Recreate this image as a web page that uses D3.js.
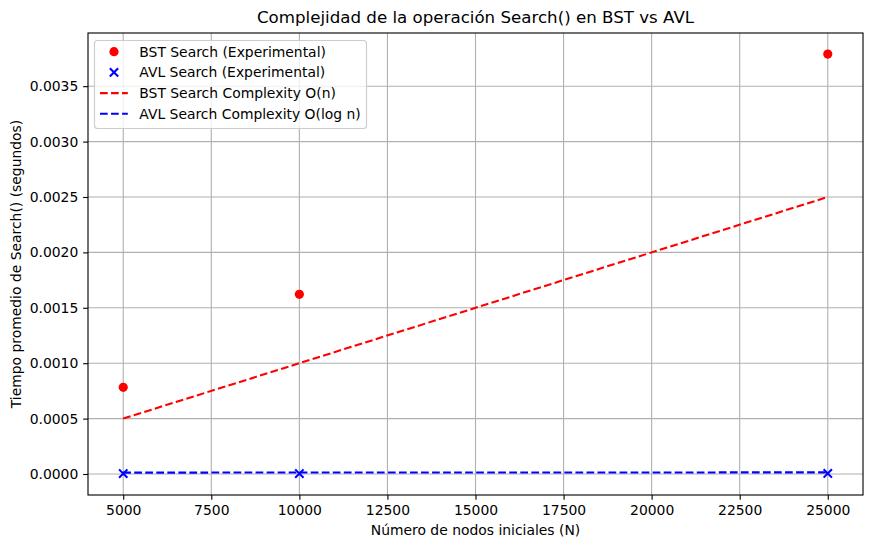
<!DOCTYPE html>
<html>
<head>
<meta charset="utf-8">
<script src="https://cdn.jsdelivr.net/npm/d3@7"></script>
<style>
body{margin:0;background:#fff;}
svg{display:block;font-family:"DejaVu Sans",sans-serif;}
</style>
</head>
<body>
<svg id="chart" width="872" height="548"></svg>
<script>
const nodes = [5000, 10000, 25000];
const bstExperimental = [0.000782, 0.001622, 0.00379];
const avlExperimental = [0.000004, 0.000004, 0.000005];
const bstComplexity = [0.0005, 0.001, 0.0025];
const avlComplexity = [0.0000123, 0.0000133, 0.0000146];
const xTicks = [5000, 7500, 10000, 12500, 15000, 17500, 20000, 22500, 25000];
const yTicks = [0, 0.0005, 0.001, 0.0015, 0.002, 0.0025, 0.003, 0.0035];
const legendLabels = ["BST Search (Experimental)", "AVL Search (Experimental)", "BST Search Complexity O(n)", "AVL Search Complexity O(log n)"];

const svg = d3.select("#chart");
const L = 88, R = 863, T = 33, B = 495;
const x = d3.scaleLinear().domain([4000, 26000]).range([L, R]);
const y = d3.scaleLinear().domain([-0.0001895, 0.00398]).range([B, T]);

// grid
const g = svg.append("g");
g.selectAll(".gx").data(xTicks).enter().append("line")
  .attr("x1", d => x(d)).attr("x2", d => x(d)).attr("y1", T).attr("y2", B)
  .attr("stroke", "#b0b0b0").attr("stroke-width", 1.11);
g.selectAll(".gy").data(yTicks).enter().append("line")
  .attr("y1", d => y(d)).attr("y2", d => y(d)).attr("x1", L).attr("x2", R)
  .attr("stroke", "#b0b0b0").attr("stroke-width", 1.11);

// axes
const xAxis = d3.axisBottom(x).tickValues(xTicks).tickFormat(d3.format("d")).tickSize(4.86).tickPadding(4.86);
const yAxis = d3.axisLeft(y).tickValues(yTicks).tickFormat(d3.format(".4f")).tickSize(4.86).tickPadding(4.86);
const ax = svg.append("g").attr("transform", `translate(0,${B})`).call(xAxis);
const ay = svg.append("g").attr("transform", `translate(${L},0)`).call(yAxis);
[ax, ay].forEach(a => {
  a.select(".domain").remove();
  a.selectAll(".tick line").attr("stroke", "#000").attr("stroke-width", 1.11);
  a.selectAll(".tick text").attr("fill", "#000").style("font-size", "13.9px").style("font-family", "DejaVu Sans");
});

// lines
const line = d3.line().x((d, i) => x(nodes[i])).y(d => y(d));
svg.append("path").datum(bstComplexity).attr("d", line)
  .attr("fill", "none").attr("stroke", "red").attr("stroke-width", 2.08).attr("stroke-dasharray", "7.7,3.33");
svg.append("path").datum(avlComplexity).attr("d", line)
  .attr("fill", "none").attr("stroke", "blue").attr("stroke-width", 2.08).attr("stroke-dasharray", "7.7,3.33");

// scatter
const cr = 4.6;
svg.selectAll(".bst").data(bstExperimental).enter().append("circle")
  .attr("cx", (d, i) => x(nodes[i])).attr("cy", d => y(d)).attr("r", cr).attr("fill", "red");
const xs = 4.17;
svg.selectAll(".avl").data(avlExperimental).enter().append("path")
  .attr("d", (d, i) => {
    const cx = x(nodes[i]), cy = y(d);
    return `M${cx - xs},${cy - xs}L${cx + xs},${cy + xs}M${cx - xs},${cy + xs}L${cx + xs},${cy - xs}`;
  })
  .attr("stroke", "blue").attr("stroke-width", 2.08).attr("fill", "none");

// frame
svg.append("rect").attr("x", L).attr("y", T).attr("width", R - L).attr("height", B - T)
  .attr("fill", "none").attr("stroke", "#000").attr("stroke-width", 1.11);

// legend
const lg = svg.append("g");
lg.append("rect").attr("x", 94.5).attr("y", 40.5).attr("width", 272).attr("height", 88)
  .attr("rx", 3).attr("fill", "#fff").attr("fill-opacity", 0.8).attr("stroke", "#cccccc").attr("stroke-width", 1.11);
const rowY = [51.7, 72.4, 93.1, 113.8];
legendLabels.forEach((lab, i) => {
  const cy = rowY[i];
  if (i === 0) {
    lg.append("circle").attr("cx", 114).attr("cy", cy).attr("r", cr).attr("fill", "red");
  } else if (i === 1) {
    lg.append("path").attr("d", `M${114 - xs},${cy - xs}L${114 + xs},${cy + xs}M${114 - xs},${cy + xs}L${114 + xs},${cy - xs}`)
      .attr("stroke", "blue").attr("stroke-width", 2.08);
  } else {
    lg.append("line").attr("x1", 100).attr("x2", 127.8).attr("y1", cy).attr("y2", cy)
      .attr("stroke", i === 2 ? "red" : "blue").attr("stroke-width", 2.08).attr("stroke-dasharray", "7.7,3.33");
  }
  lg.append("text").attr("x", 139.3).attr("y", cy).attr("dy", "0.35em")
    .style("font-size", "13.9px").text(lab);
});

// titles
svg.append("text").attr("x", (L + R) / 2).attr("y", 23).attr("text-anchor", "middle")
  .style("font-size", "16.67px").text("Complejidad de la operación Search() en BST vs AVL");
svg.append("text").attr("x", (L + R) / 2).attr("y", 535).attr("text-anchor", "middle")
  .style("font-size", "13.9px").text("Número de nodos iniciales (N)");
svg.append("text").attr("transform", `translate(21,${(T + B) / 2}) rotate(-90)`).attr("text-anchor", "middle")
  .style("font-size", "13.9px").text("Tiempo promedio de Search() (segundos)");
</script>
</body>
</html>
